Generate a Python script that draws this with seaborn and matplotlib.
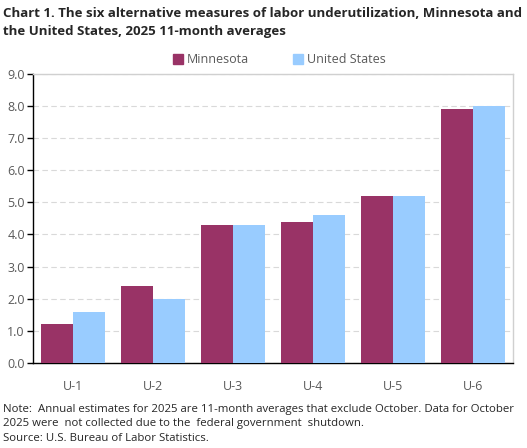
import numpy as np
import pandas as pd
import matplotlib.pyplot as plt
import seaborn as sns

measures = ['U-1', 'U-2', 'U-3', 'U-4', 'U-5', 'U-6']
minnesota = [1.2, 2.4, 4.3, 4.4, 5.2, 7.9]
united_states = [1.6, 2.0, 4.3, 4.6, 5.2, 8.0]
series = ['Minnesota', 'United States']
colors = ['#993366', '#99CCFF']

df = pd.DataFrame({
    'measure': measures * 2,
    'area': ['Minnesota'] * len(measures) + ['United States'] * len(measures),
    'rate': minnesota + united_states,
})

sns.set_style('white')
plt.rcParams['font.family'] = ['Open Sans', 'DejaVu Sans']

fig = plt.figure(figsize=(5.27, 4.48), dpi=100)
ax = fig.add_axes([0.063, 0.19, 0.911, 0.645])

sns.barplot(data=df, x='measure', y='rate', hue='area', order=measures, hue_order=series,
            palette=colors, width=0.8, saturation=1, ax=ax, legend=False, zorder=3,
            linewidth=0, edgecolor='none')

ax.set_ylim(0, 9)
ax.set_yticks(np.arange(0, 9.5, 1.0))
ax.set_yticklabels([f'{v:.1f}' for v in np.arange(0, 9.5, 1.0)])
ax.set_xlim(-0.5, 5.5)
ax.set_xlabel('')
ax.set_ylabel('')
ax.yaxis.grid(True, linestyle=(0, (5, 3)), color='#d9d9d9', linewidth=0.8, zorder=0)
ax.set_axisbelow(True)

for side in ['top', 'right']:
    ax.spines[side].set_color('#d0d0d0')
    ax.spines[side].set_linewidth(1)
for side in ['left', 'bottom']:
    ax.spines[side].set_color('black')
    ax.spines[side].set_linewidth(1)

ax.tick_params(axis='y', left=True, length=4, width=1, color='black', labelsize=9, labelcolor='#595959', pad=2)
ax.tick_params(axis='x', bottom=False, labelsize=9, labelcolor='#595959', pad=9)

handles = [plt.Rectangle((0, 0), 1, 1, color=c) for c in colors]
fig.legend(handles, series, loc='center', bbox_to_anchor=(0.53, 0.867), ncol=2, frameon=False,
           fontsize=9, labelcolor='#595959', handlelength=0.8, handleheight=0.8,
           handletextpad=0.3, columnspacing=3.5)

fig.text(0.005, 0.985, 'Chart 1. The six alternative measures of labor underutilization, Minnesota and\n'
         'the United States, 2025 11-month averages', fontsize=9.5, fontweight='bold',
         va='top', ha='left', linespacing=1.5)

fig.text(0.005, 0.098, 'Note:  Annual estimates for 2025 are 11-month averages that exclude October. Data for October\n'
         '2025 were  not collected due to the  federal government  shutdown.\n'
         'Source: U.S. Bureau of Labor Statistics.', fontsize=8.2, va='top', ha='left', linespacing=1.42)

fig.savefig('out.png', dpi=100)
